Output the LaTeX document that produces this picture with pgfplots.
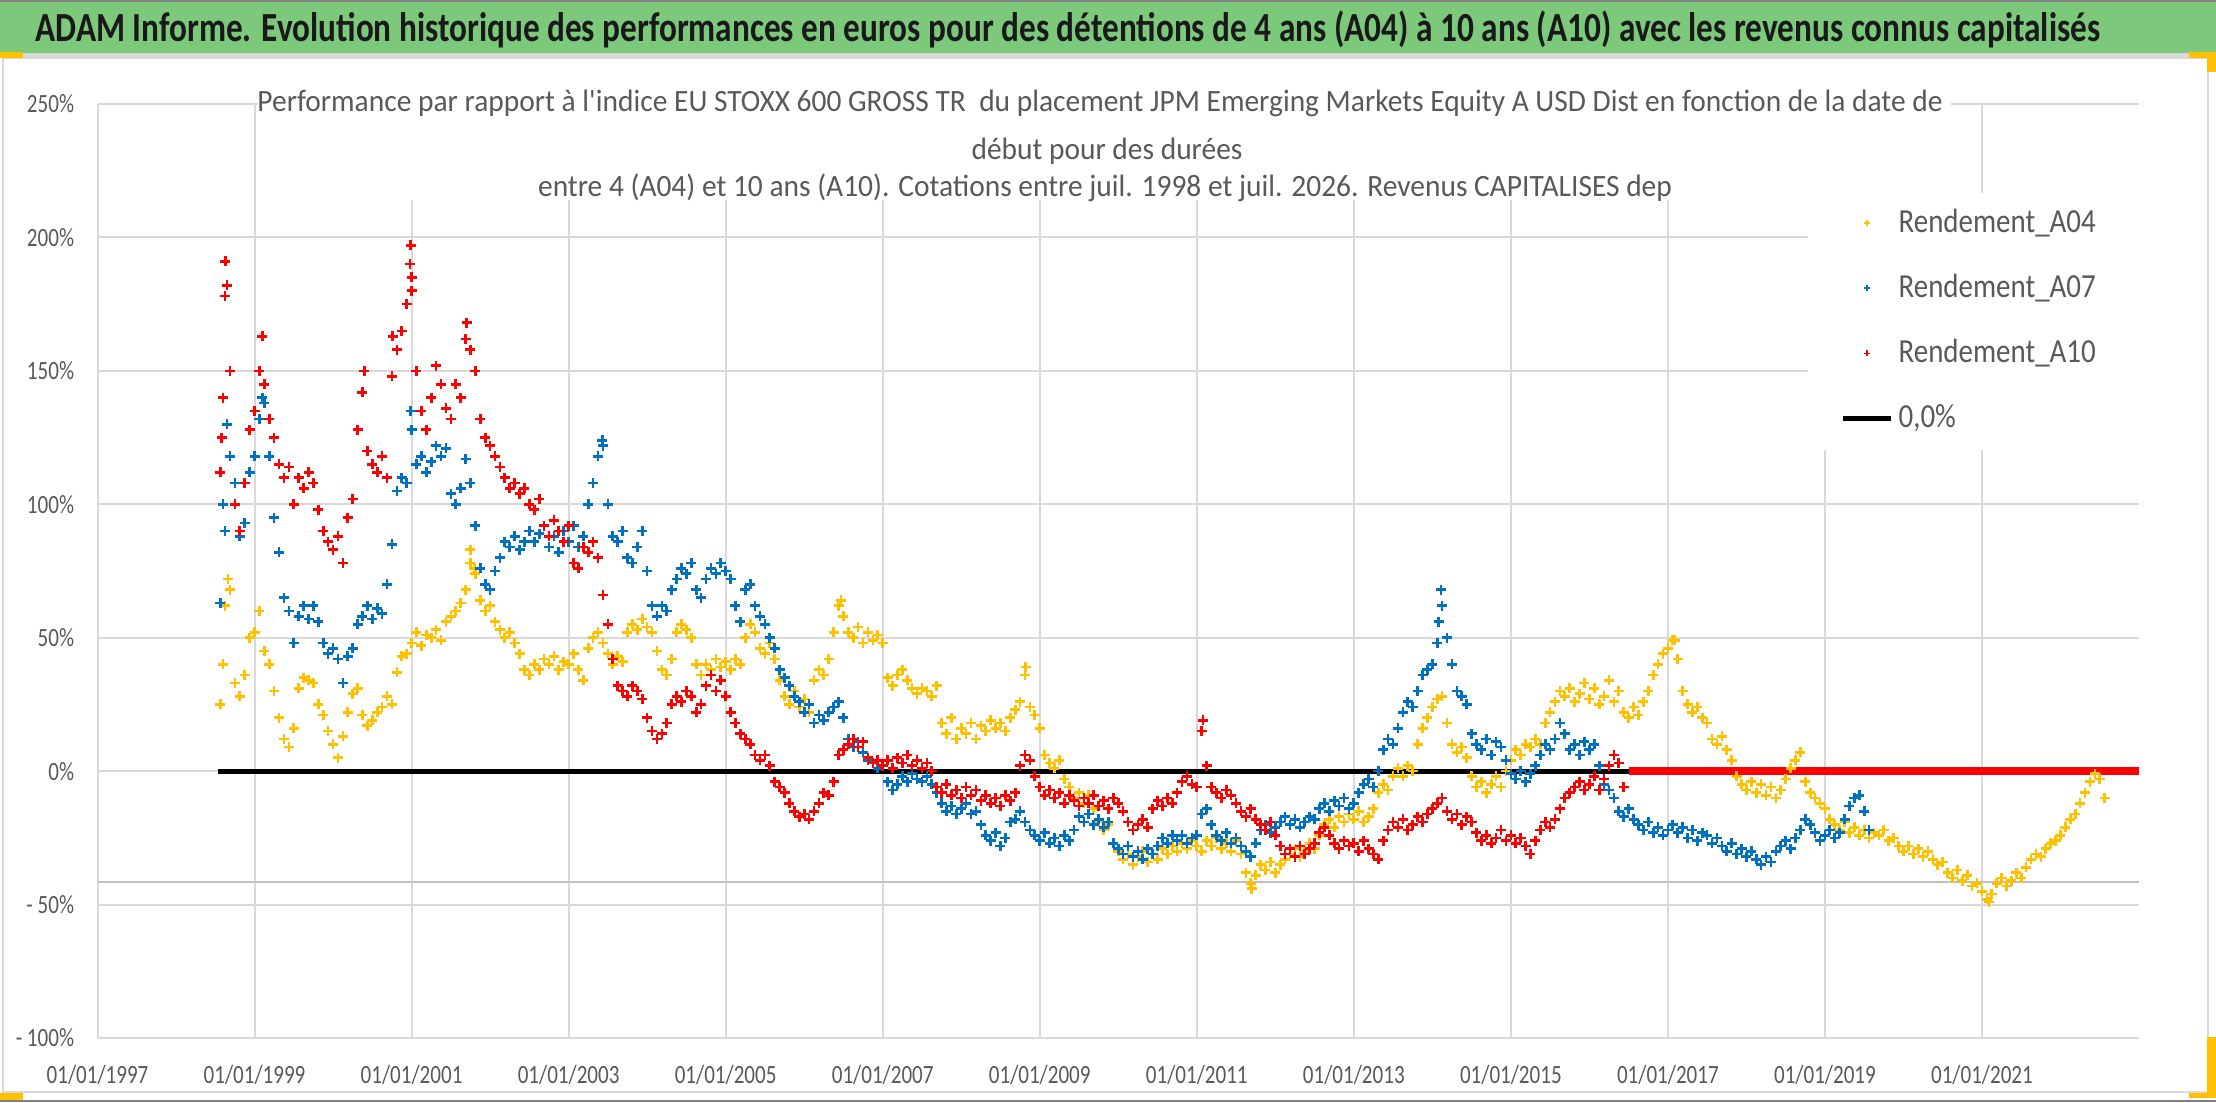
\documentclass[border=0pt]{standalone}
\usepackage{fontspec}
\setmainfont{Carlito}[FakeStretch=0.86]
\newfontfamily\tickfont{Carlito}[FakeStretch=0.80]
\newfontfamily\titlefont{Carlito}[FakeStretch=0.95]
\newfontfamily\banfont{Carlito}[FakeStretch=0.805]
\usepackage{pgfplots}
\pgfplotsset{compat=1.18}
\usepackage{pgfplotstable}
\definecolor{yel}{HTML}{FFC000}
\definecolor{blu}{HTML}{0070C0}
\definecolor{rd}{HTML}{FF0000}
\definecolor{txt}{HTML}{595959}
\definecolor{grd}{HTML}{D9D9D9}
\definecolor{axgray}{HTML}{BFBFBF}
\definecolor{ban}{RGB}{124,201,124}
\definecolor{handle}{HTML}{FFC000}

% A04, from 1998.5625, step 1/16 year
\pgfplotstableread[row sep=\\]{y\\
25\\62\\68\\33\\28\\36\\50\\
52\\60\\45\\40\\30\\20\\12\\9\\16\\31\\35\\34\\33\\25\\21\\15\\
10\\5\\13\\22\\29\\31\\21\\17\\19\\22\\24\\28\\25\\37\\43\\44\\
48\\52\\47\\51\\50\\53\\49\\56\\58\\60\\63\\68\\78\\74\\64\\60\\
62\\56\\53\\50\\52\\48\\44\\38\\36\\40\\38\\42\\40\\43\\38\\41\\
40\\44\\38\\34\\46\\50\\52\\48\\44\\40\\43\\41\\52\\55\\53\\57\\
54\\52\\45\\38\\36\\42\\52\\55\\53\\50\\40\\36\\40\\38\\42\\39\\
41\\38\\42\\40\\50\\55\\52\\46\\44\\48\\42\\34\\28\\25\\30\\24\\
27\\22\\34\\38\\36\\42\\52\\62\\58\\52\\50\\54\\48\\52\\49\\51\\
48\\35\\32\\36\\38\\34\\31\\29\\31\\30\\28\\32\\18\\14\\20\\12\\
16\\14\\18\\12\\17\\15\\19\\16\\18\\15\\20\\23\\26\\36\\24\\21\\
16\\6\\3\\1\\4\\-3\\-6\\-10\\-8\\-12\\-9\\-14\\-19\\-22\\-20\\-27\\
-30\\-33\\-31\\-35\\-32\\-30\\-34\\-31\\-33\\-29\\-31\\-28\\-30\\-27\\-29\\-26\\
-28\\-30\\-26\\-28\\-25\\-29\\-27\\-30\\-26\\-31\\-38\\-42\\-39\\-35\\-37\\-34\\
-38\\-35\\-33\\-31\\-29\\-32\\-30\\-27\\-29\\-24\\-20\\-18\\-21\\-17\\-19\\-16\\
-18\\-15\\-19\\-17\\-14\\-8\\-5\\-7\\-2\\1\\-2\\2\\0\\10\\16\\20\\
24\\27\\28\\18\\10\\7\\9\\5\\-2\\-6\\-4\\-8\\-5\\-2\\-6\\0\\
4\\8\\6\\10\\9\\12\\10\\18\\22\\26\\30\\28\\31\\26\\29\\33\\
27\\31\\25\\28\\34\\26\\30\\22\\20\\24\\21\\26\\30\\36\\40\\44\\
46\\49\\42\\30\\25\\22\\24\\20\\18\\12\\10\\13\\8\\4\\-2\\-5\\
-7\\-4\\-8\\-5\\-9\\-6\\-10\\-7\\-3\\1\\4\\7\\-4\\-8\\-10\\-12\\
-14\\-18\\-20\\-22\\-19\\-23\\-21\\-24\\-22\\-25\\-23\\-24\\-22\\-26\\-25\\-28\\
-30\\-28\\-31\\-29\\-32\\-30\\-33\\-35\\-34\\-38\\-40\\-37\\-41\\-39\\-43\\-42\\
-45\\-48\\-46\\-42\\-40\\-43\\-41\\-38\\-40\\-36\\-33\\-31\\-32\\-29\\-27\\-26\\
-24\\-21\\-18\\-16\\-12\\-8\\-4\\-1\\-3\\-10\\
}\yA

% A07
\pgfplotstableread[row sep=\\]{y\\
63\\90\\118\\108\\88\\93\\112\\
118\\132\\138\\118\\95\\82\\65\\60\\48\\58\\62\\57\\62\\56\\48\\44\\
46\\42\\33\\43\\46\\55\\58\\62\\57\\61\\59\\70\\85\\105\\110\\108\\
128\\115\\118\\112\\116\\122\\118\\121\\104\\100\\106\\117\\108\\92\\76\\70\\
68\\75\\80\\86\\84\\88\\83\\86\\90\\86\\89\\92\\84\\88\\82\\90\\
86\\92\\84\\88\\100\\108\\118\\122\\100\\88\\86\\90\\80\\78\\84\\90\\
75\\62\\58\\62\\60\\68\\72\\76\\74\\78\\68\\65\\72\\76\\74\\78\\
75\\72\\62\\56\\68\\70\\62\\58\\55\\50\\46\\38\\35\\32\\28\\26\\
22\\25\\18\\21\\19\\22\\24\\26\\20\\12\\9\\11\\7\\4\\3\\1\\
2\\-4\\-7\\-5\\-2\\-4\\-1\\-3\\-4\\-2\\-5\\-8\\-12\\-15\\-13\\-16\\
-14\\-12\\-16\\-15\\-20\\-24\\-26\\-23\\-28\\-25\\-19\\-18\\-15\\-19\\-22\\-24\\
-26\\-23\\-27\\-25\\-28\\-24\\-26\\-22\\-17\\-19\\-16\\-20\\-18\\-21\\-19\\-27\\
-29\\-31\\-28\\-32\\-30\\-33\\-29\\-31\\-28\\-25\\-27\\-24\\-26\\-24\\-27\\-25\\
-24\\-16\\-14\\-20\\-24\\-26\\-23\\-27\\-25\\-28\\-30\\-32\\-27\\-22\\-20\\-23\\
-21\\-19\\-17\\-20\\-18\\-21\\-19\\-17\\-18\\-14\\-12\\-15\\-11\\-13\\-10\\-14\\
-12\\-8\\-5\\-3\\-6\\0\\8\\12\\10\\16\\22\\26\\24\\30\\36\\38\\
40\\48\\62\\50\\40\\30\\28\\25\\14\\10\\8\\12\\6\\11\\9\\4\\
-1\\-3\\0\\-4\\-1\\2\\6\\10\\8\\12\\18\\14\\8\\10\\6\\11\\
8\\10\\2\\-5\\-7\\-10\\-15\\-17\\-14\\-18\\-20\\-22\\-19\\-23\\-21\\-24\\
-22\\-20\\-23\\-21\\-25\\-22\\-26\\-23\\-24\\-27\\-25\\-28\\-30\\-27\\-31\\-29\\
-32\\-30\\-33\\-35\\-32\\-34\\-30\\-28\\-26\\-29\\-25\\-22\\-18\\-20\\-23\\-26\\
-24\\-22\\-25\\-23\\-18\\-13\\-10\\-9\\-15\\-22\\
}\yB

% A10
\pgfplotstableread[row sep=\\]{y\\
112\\178\\150\\100\\90\\108\\128\\
135\\150\\145\\132\\125\\115\\110\\114\\100\\110\\106\\112\\108\\98\\90\\86\\
83\\88\\78\\95\\102\\128\\142\\120\\115\\112\\118\\110\\148\\158\\165\\175\\
180\\150\\135\\128\\140\\152\\145\\136\\132\\145\\140\\162\\158\\150\\132\\125\\
122\\118\\114\\110\\106\\108\\104\\106\\100\\98\\102\\92\\88\\94\\90\\86\\
92\\78\\76\\84\\82\\86\\80\\66\\55\\42\\32\\30\\28\\32\\30\\27\\
20\\15\\12\\14\\18\\25\\28\\26\\30\\28\\22\\25\\32\\36\\30\\34\\
28\\22\\18\\14\\12\\10\\6\\4\\6\\2\\-4\\-6\\-8\\-12\\-15\\-17\\
-16\\-18\\-15\\-12\\-8\\-9\\-4\\6\\8\\10\\12\\9\\11\\5\\3\\4\\
2\\4\\1\\5\\3\\6\\2\\4\\1\\3\\0\\-6\\-8\\-5\\-9\\-7\\
-10\\-6\\-9\\-7\\-11\\-9\\-12\\-10\\-13\\-9\\-11\\-8\\2\\6\\4\\-2\\
-6\\-9\\-7\\-10\\-8\\-12\\-9\\-11\\-13\\-10\\-12\\-9\\-13\\-11\\-14\\-10\\
-12\\-15\\-19\\-22\\-20\\-18\\-21\\-14\\-11\\-13\\-10\\-12\\-8\\-4\\-2\\-5\\
-6\\15\\2\\-6\\-8\\-10\\-7\\-9\\-12\\-15\\-17\\-14\\-18\\-20\\-22\\-19\\
-24\\-28\\-31\\-29\\-32\\-28\\-31\\-29\\-27\\-23\\-21\\-24\\-27\\-29\\-26\\-28\\
-27\\-30\\-26\\-29\\-31\\-33\\-26\\-22\\-19\\-21\\-18\\-22\\-20\\-17\\-19\\-16\\
-14\\-12\\-10\\-15\\-18\\-16\\-20\\-17\\-19\\-23\\-26\\-24\\-27\\-25\\-22\\-26\\
-24\\-27\\-25\\-28\\-31\\-26\\-22\\-19\\-21\\-18\\-14\\-10\\-8\\-6\\-4\\-7\\
-5\\-2\\-7\\-3\\2\\6\\3\\-6\\
}\yC

\pgfplotsset{
  ser/.style={only marks, mark=+, mark size=1.5pt, mark options={line width=0.8pt},
    legend image code/.code={\draw[##1, mark size=0.95pt, mark options={line width=0.45pt}] plot coordinates {(7.2pt,0pt)};}},
  zeroline/.style={black, line width=1.5pt,
    legend image code/.code={\draw[##1] (0pt,0pt) -- (14.4pt,0pt);}}
}

\begin{document}
\begin{tikzpicture}[x=0.3pt,y=0.3pt]
\useasboundingbox (0,0) rectangle (2216,1102);
\fill[white] (0,0) rectangle (2216,1102);
% banner
\fill[ban] (0,1049) rectangle (2216,1102);
\draw[gray, line width=0.5pt] (0,1101.3) -- (2216,1101.3);
\fill[grd] (0,1044) rectangle (2216,1049);
\node[anchor=base west, inner sep=0pt, font=\banfont\fontsize{12.4}{14}\selectfont\bfseries, text=black!90] at (35,1060.3) {ADAM Informe. Evolution historique des performances en euros pour des détentions de 4 ans (A04) à 10 ans (A10) avec les revenus connus capitalisés};
% chart frame
\draw[grd, line width=0.6pt] (3,10) rectangle (2208,1044);
\draw[gray, line width=0.6pt] (0,1.2) -- (2216,1.2);
% selection handles
\fill[handle] (0,1044) rectangle (23,1050);
\fill[handle] (2189,1044) rectangle (2216,1050);
\fill[handle] (2207,1030) rectangle (2216,1050);
\fill[handle] (0,2) rectangle (23,9);
\fill[handle] (2207,4) rectangle (2216,65);
\fill[handle] (2189,4) rectangle (2216,9);

\begin{axis}[
  at={(29.25pt,19.2pt)}, anchor=south west,
  width=612.45pt, height=280.2pt, scale only axis,
  xmin=1997, xmax=2023, ymin=-100, ymax=250,
  xtick={1997,1999,2001,2003,2005,2007,2009,2011,2013,2015,2017,2019,2021},
  xticklabels={01/01/1997,01/01/1999,01/01/2001,01/01/2003,01/01/2005,01/01/2007,01/01/2009,01/01/2011,01/01/2013,01/01/2015,01/01/2017,01/01/2019,01/01/2021},
  ytick={-100,-50,0,50,100,150,200,250},
  yticklabels={- 100\%,- 50\%,0\%,50\%,100\%,150\%,200\%,250\%},
  grid=major, grid style={grd, line width=0.6pt},
  axis line style={draw=none}, major tick length=0pt,
  tick label style={font=\tickfont\fontsize{7.9}{9}\selectfont, text=txt},
  xticklabel style={yshift=-4.6pt},
  yticklabel style={xshift=-3.5pt},
  clip=false,
  legend style={at={(0.8535,0.8883)}, anchor=north west, draw=none, fill=none,
    font=\fontsize{10.1}{12}\selectfont, text=txt, row sep=11pt, column sep=1.5pt,
    inner sep=0pt, nodes={inner sep=0pt}},
  legend cell align=left,
]
\addplot[forget plot, axgray, line width=0.75pt] coordinates {(1997,-41.5) (2023,-41.5)};
\fill[white] (axis cs:1999.05,214) rectangle (axis cs:2020.6,258);
\fill[white] (axis cs:2018.79,120.3) rectangle (axis cs:2023.3,216.6);
\addplot[forget plot, black, line width=1.5pt] coordinates {(1998.54,0) (2023,0)};

\addplot[ser, color=yel] table[x expr=1998.5625+\coordindex*0.0625, y=y]{\yA};
\addlegendentry{Rendement\_A04}
\addplot[ser, color=yel, forget plot] coordinates {(1998.66,72) (1998.6,40) (2001.75,83) (2001.8,76) (2006.47,64) (2008.82,39) (2017.09,49) (2021.09,-49) (2011.7,-44)};

\addplot[ser, color=blu] table[x expr=1998.5625+\coordindex*0.0625, y=y]{\yB};
\addlegendentry{Rendement\_A07}
\addplot[ser, color=blu, forget plot] coordinates {(1998.6,100) (1998.65,130) (1999.1,140) (2000.99,135) (2003.43,124) (2014.11,68) (2014.08,56) (2011.68,-32)};

\addplot[ser, color=rd] table[x expr=1998.5625+\coordindex*0.0625, y=y]{\yC};
\addlegendentry{Rendement\_A10}
\addplot[ser, color=rd, forget plot] coordinates {(1998.6,140) (1998.63,191) (1998.65,182) (1998.58,125) (1999.1,163) (2000.4,150) (2000.76,163) (2000.99,197) (2000.98,190) (2001.0,185) (2001.7,168) (2011.08,19)};
\addplot[forget plot, rd, line width=2.2pt] coordinates {(2016.5,0) (2023,0)};

\addlegendimage{zeroline}
\addlegendentry{0,0\%}
\end{axis}

% inner title
\begin{scope}[every node/.style={inner sep=0pt, text=txt, font=\titlefont\fontsize{9.3}{11}\selectfont}]
\node[anchor=base] at (1100,990) {Performance par rapport à l\textquotesingle indice EU STOXX 600 GROSS TR\ \ du placement JPM Emerging Markets Equity A USD Dist en fonction de la date de};
\node[anchor=base] at (1107,942) {début pour des durées};
\node[anchor=base] at (1105,905) {entre 4 (A04) et 10 ans (A10). Cotations entre juil. 1998 et juil. 2026. Revenus CAPITALISES dep};
\end{scope}
\end{tikzpicture}
\end{document}
